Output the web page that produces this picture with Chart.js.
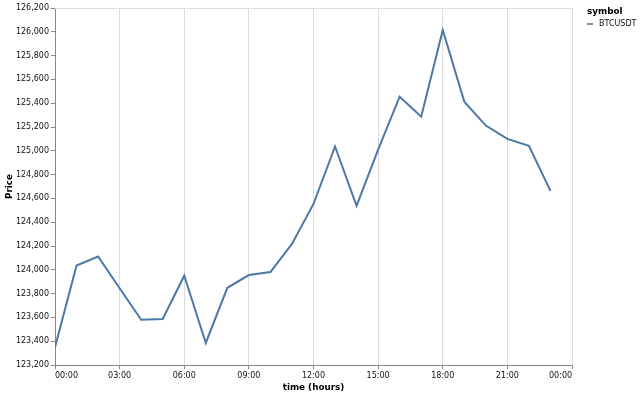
<!DOCTYPE html>
<html>
<head>
<meta charset="utf-8">
<script src="https://cdn.jsdelivr.net/npm/chart.js@4.4.1/dist/chart.umd.min.js"></script>
<style>
  html, body { margin: 0; padding: 0; background: #fff; }
  #wrap { width: 640px; height: 395px; position: relative; }
</style>
</head>
<body>
<div id="wrap"><canvas id="chart"></canvas></div>
<script>
// hourly BTCUSDT price
const symbol = 'BTCUSDT';
const hours = [0, 1, 2, 3, 4, 5, 6, 7, 8, 9, 10, 11, 12, 13, 14, 15, 16, 17, 18, 19, 20, 21, 22, 23];
const prices = [
  123350, 124036, 124112, 123845, 123580, 123587, 123950, 123385,
  123849, 123956, 123981, 124218, 124554, 125036, 124538, 125010,
  125455, 125287, 126015, 125413, 125212, 125100, 125041, 124663
];
const xTicksMax = 24;
const yMin = 123200;
const yMax = 126200;

const font = 'DejaVu Sans';
const lineColor = '#4c78a8';
const labelColor = '#111';

// vega style flush labels at both ends of the time axis
const pad = '\u2007\u2007\u2007\u2007\u2008';
function hourLabel(value) {
  const text = String(value % 24).padStart(2, '0') + ':00';
  if (value === 0) return pad + text;
  if (value === xTicksMax) return text + pad;
  return text;
}

const frame = {
  id: 'frame',
  beforeDatasetsDraw(chart) {
    const { ctx, chartArea: a } = chart;
    ctx.save();
    ctx.strokeStyle = '#ddd';
    ctx.lineWidth = 1;
    ctx.beginPath();
    ctx.moveTo(a.left, a.top + 0.5);
    ctx.lineTo(a.right + 0.5, a.top + 0.5);
    ctx.lineTo(a.right + 0.5, a.bottom);
    ctx.stroke();
    ctx.restore();
  }
};

const sideLegend = {
  id: 'sideLegend',
  afterDraw(chart) {
    const { ctx, chartArea: a } = chart;
    const x = a.right + 15;
    ctx.save();
    ctx.textBaseline = 'middle';
    ctx.textAlign = 'left';
    ctx.fillStyle = '#000';
    ctx.font = `bold 8.8px "${font}"`;
    ctx.fillText('symbol', x, 12);
    chart.data.datasets.forEach((ds, i) => {
      const y = 24 + i * 12;
      ctx.strokeStyle = ds.borderColor;
      ctx.lineWidth = 1.6;
      ctx.beginPath();
      ctx.moveTo(x, y);
      ctx.lineTo(x + 6, y);
      ctx.stroke();
      ctx.fillStyle = labelColor;
      ctx.font = `8px "${font}"`;
      ctx.fillText(ds.label, x + 12, y);
    });
    ctx.restore();
  }
};

new Chart(document.getElementById('chart'), {
  type: 'line',
  data: {
    datasets: [{
      label: symbol,
      data: hours.map((h, i) => ({ x: h, y: prices[i] })),
      borderColor: lineColor,
      backgroundColor: lineColor,
      borderWidth: 2,
      pointRadius: 0,
      tension: 0,
      fill: false
    }]
  },
  options: {
    responsive: true,
    maintainAspectRatio: false,
    animation: false,
    layout: { padding: { top: 8, right: 68, left: 0, bottom: 0 } },
    plugins: {
      legend: { display: false },
      tooltip: { enabled: false }
    },
    scales: {
      x: {
        type: 'linear',
        min: 0,
        max: xTicksMax,
        afterFit: scale => { scale.height = 30; },
        ticks: {
          stepSize: 3,
          maxRotation: 0,
          autoSkip: false,
          padding: 2,
          color: labelColor,
          font: { family: font, size: 8 },
          callback: value => hourLabel(value)
        },
        grid: { color: '#ddd', tickColor: '#888', tickLength: 4, lineWidth: 1 },
        border: { color: '#888' },
        title: {
          display: true,
          text: 'time (hours)',
          color: '#000',
          font: { family: font, size: 8.8, weight: 'bold' },
          padding: { top: 0, bottom: 2 }
        }
      },
      y: {
        min: yMin,
        max: yMax,
        afterFit: scale => { scale.width = 55; },
        ticks: {
          stepSize: 200,
          padding: 2,
          color: labelColor,
          font: { family: font, size: 8 },
          callback: value => value.toLocaleString('en-US')
        },
        grid: { drawOnChartArea: false, tickColor: '#888', tickLength: 4 },
        border: { color: '#888' },
        title: {
          display: true,
          text: 'Price',
          color: '#000',
          font: { family: font, size: 8.8, weight: 'bold' },
          padding: { top: 4, bottom: 0 }
        }
      }
    }
  },
  plugins: [frame, sideLegend]
});
</script>
</body>
</html>
